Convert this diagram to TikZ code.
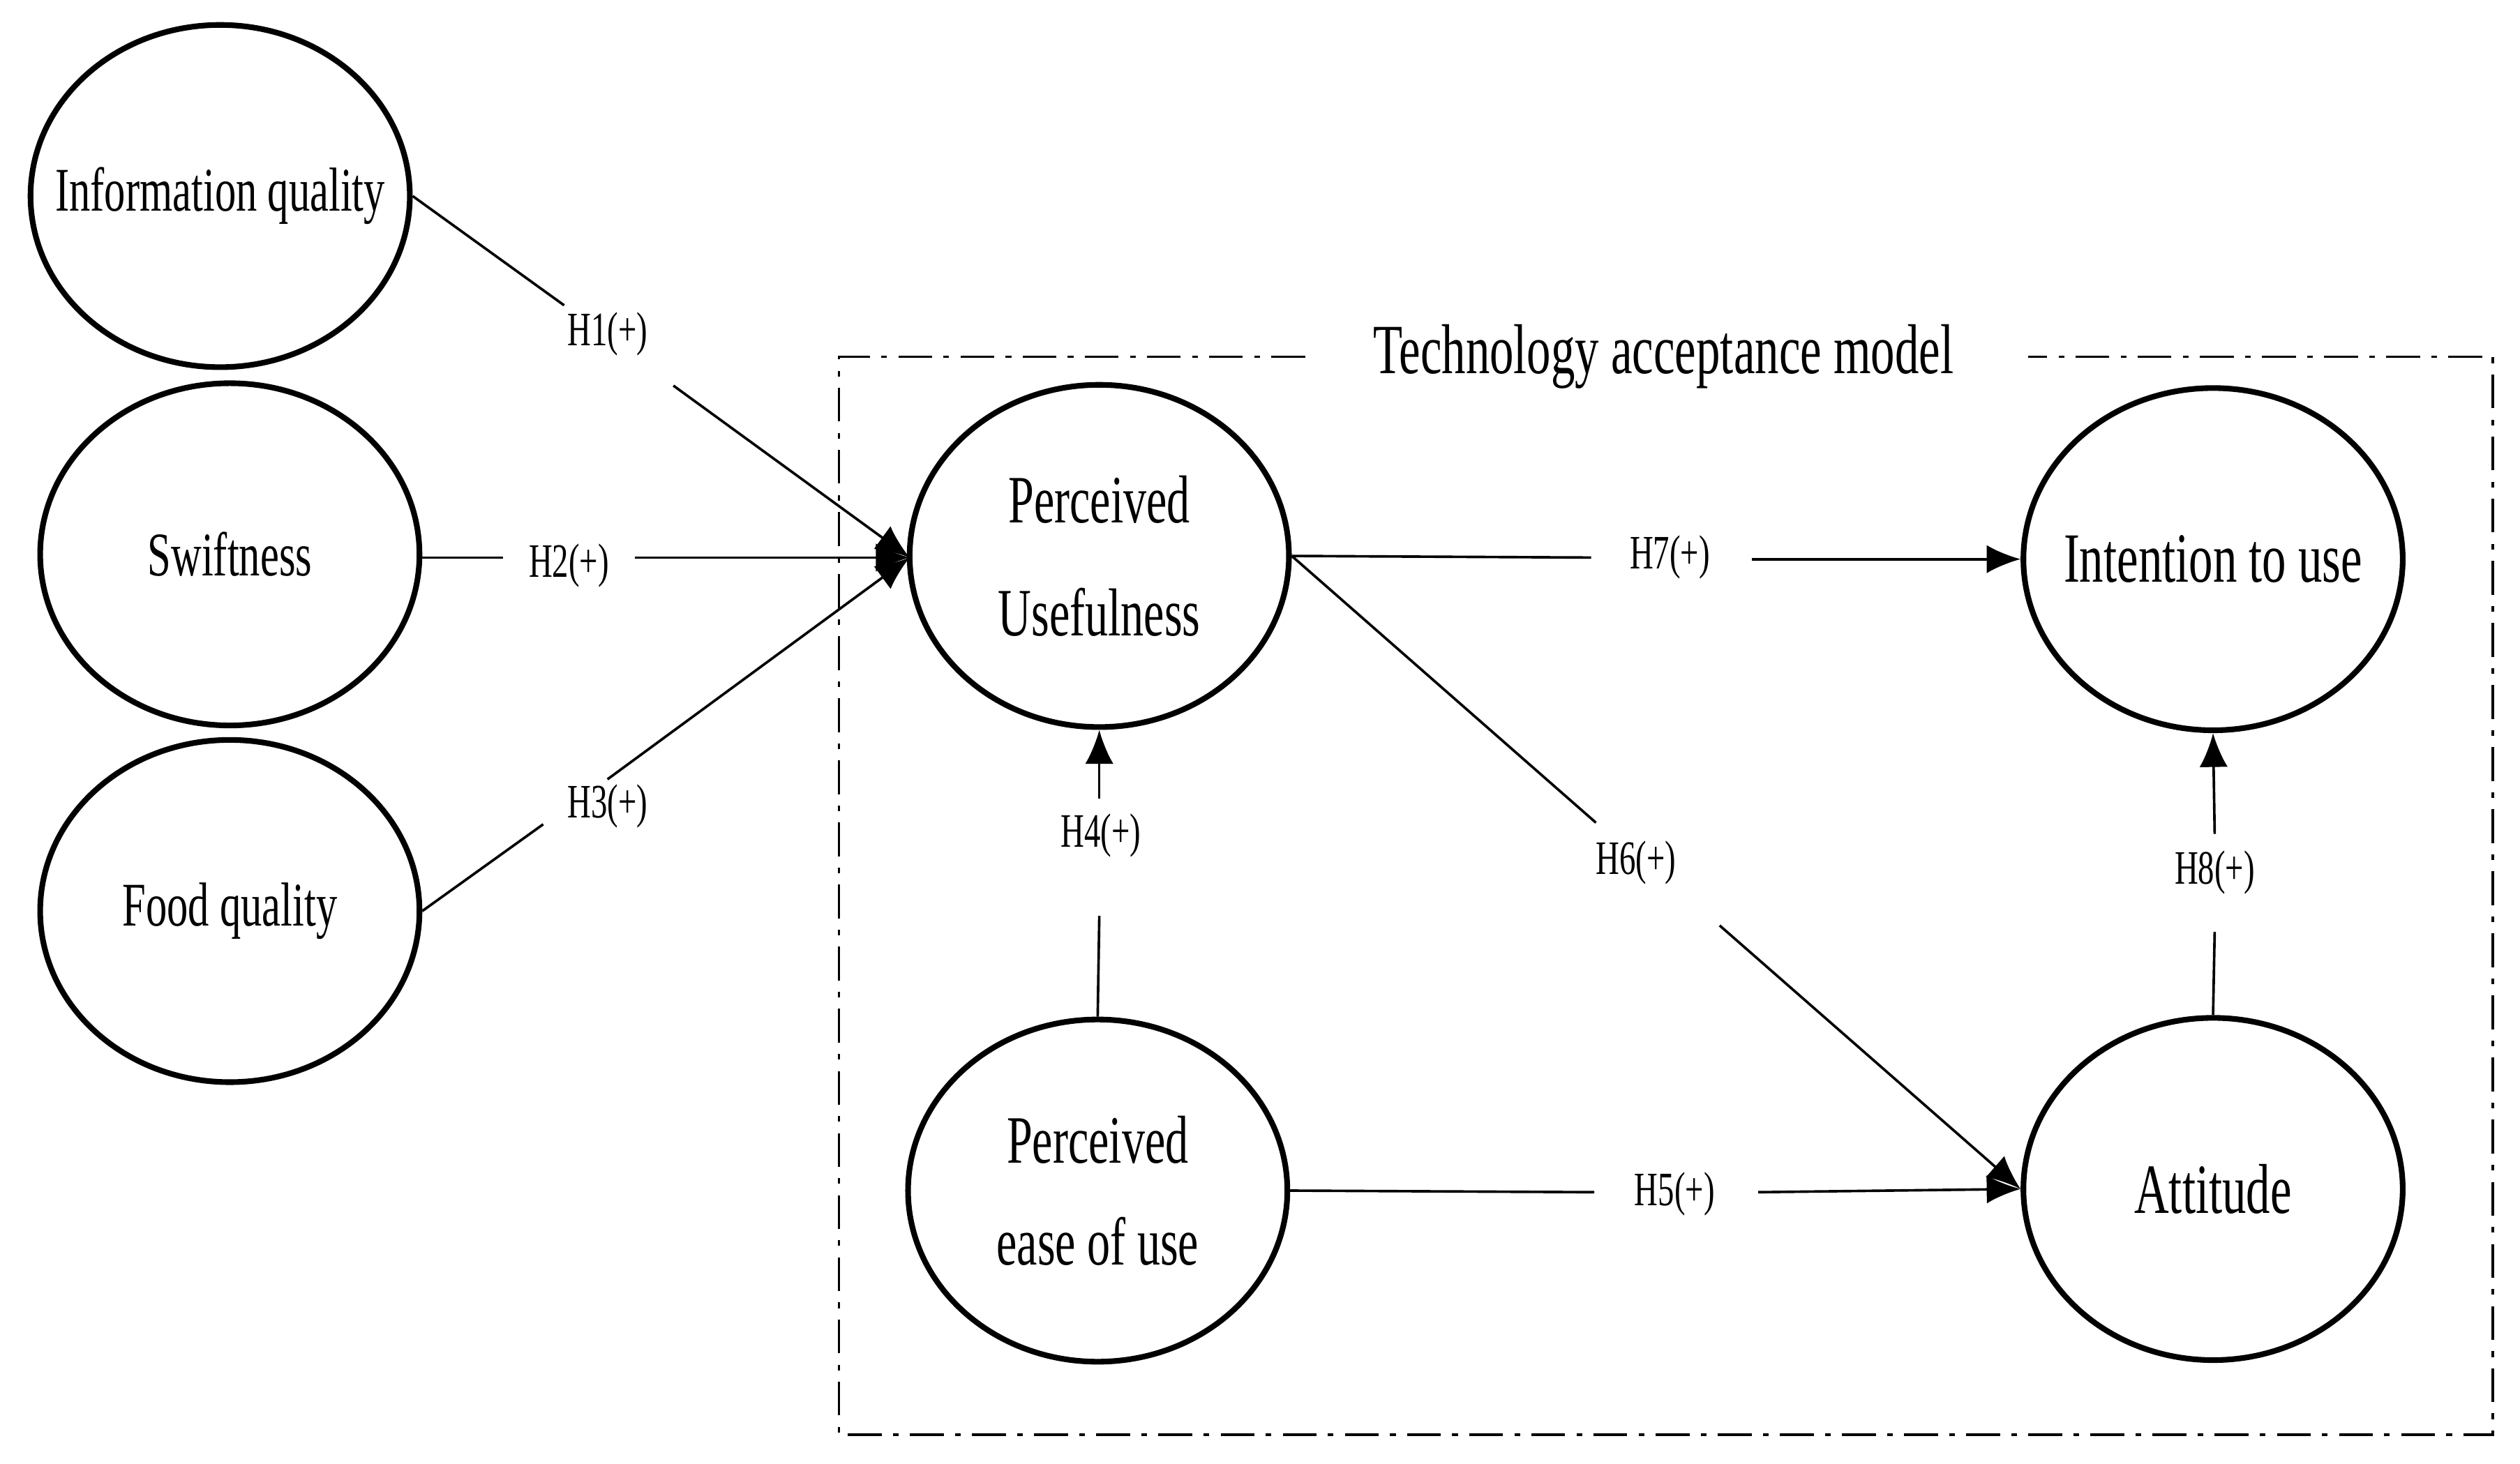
\documentclass[tikz,border=0pt]{standalone}
\usepackage{fontspec}
\setmainfont{Liberation Serif}[FakeStretch=0.68]
\usetikzlibrary{shapes.geometric,arrows.meta}
\begin{document}
\begin{tikzpicture}[x=1cm,y=-1cm,
  ell/.style={ellipse,draw,line width=1pt,minimum width=2.36cm,minimum height=2.13cm,inner sep=0pt},
  tx/.style={font=\fontsize{11}{15}\selectfont,align=center},
  lab/.style={font=\fontsize{8.5}{10}\selectfont,inner sep=2pt},
  ln/.style={line width=0.45pt},
  arr/.style={ln,-{Latex[length=6pt,width=5pt]}}]
\useasboundingbox (0,0) rectangle (15.68,9.11);
\node[ell,label={[tx]center:Information quality}] (iq) at (1.37,1.22) {};
\node[ell,label={[tx]center:Swiftness}] (sw) at (1.43,3.45) {};
\node[ell,label={[tx]center:Food quality}] (fq) at (1.43,5.67) {};
\node[ell,label={[tx,font=\fontsize{12}{15}\selectfont]center:{Perceived\\[5pt]Usefulness}}] (pu) at (6.84,3.46) {};
\node[ell,label={[tx,font=\fontsize{12}{15}\selectfont]center:{Perceived\\[3pt]ease of use}}] (pe) at (6.83,7.41) {};
\node[ell,label={[tx,font=\fontsize{12.5}{15}\selectfont]center:Intention to use}] (iu) at (13.77,3.48) {};
\node[ell,label={[tx,font=\fontsize{12.5}{15}\selectfont]center:Attitude}] (at) at (13.77,7.40) {};
\draw[ln,dash pattern=on 6pt off 2pt on 1pt off 2pt] (8.12,2.22) -- (5.22,2.22) -- (5.22,8.93) -- (15.51,8.93) -- (15.51,2.22) -- (12.62,2.22);
\node[font=\fontsize{12.5}{14}\selectfont] (title) at (10.35,2.22) {Technology acceptance model};
\coordinate (puin) at (5.66,3.47);
\coordinate (swe) at (2.61,3.47);
\node[lab] (h1) at (3.78,2.08) {H1(+)};
\node[lab] (h2) at (3.54,3.52) {H2(+)};
\node[lab] (h3) at (3.78,5.02) {H3(+)};
\node[lab] (h4) at (6.85,5.20) {H4(+)};
\node[lab] (h5) at (10.42,7.43) {H5(+)};
\node[lab] (h6) at (10.18,5.37) {H6(+)};
\node[lab] (h7) at (10.39,3.47) {H7(+)};
\node[lab] (h8) at (13.78,5.43) {H8(+)};
\draw[ln] (iq.east) -- (3.51,1.90);
\draw[arr] (4.19,2.40) -- (puin);
\draw[ln] (swe) -- (3.13,3.47);
\draw[arr] (3.95,3.47) -- (puin);
\draw[ln] (fq.east) -- (3.38,5.13);
\draw[arr] (3.78,4.85) -- (puin);
\draw[ln] (pe.north) -- (6.84,5.70);
\draw[arr] (6.84,4.97) -- (pu.south);
\draw[ln] (pe.east) -- (9.92,7.42);
\draw[arr] (10.94,7.42) -- (at.west);
\draw[ln] (pu.east) -- (9.93,5.12);
\draw[arr] (10.70,5.76) -- (at.west);
\draw[ln] (pu.east) -- (9.90,3.47);
\draw[arr] (10.90,3.48) -- (iu.west);
\draw[ln] (at.north) -- (13.78,5.80);
\draw[arr] (13.78,5.19) -- (iu.south);
\end{tikzpicture}
\end{document}
